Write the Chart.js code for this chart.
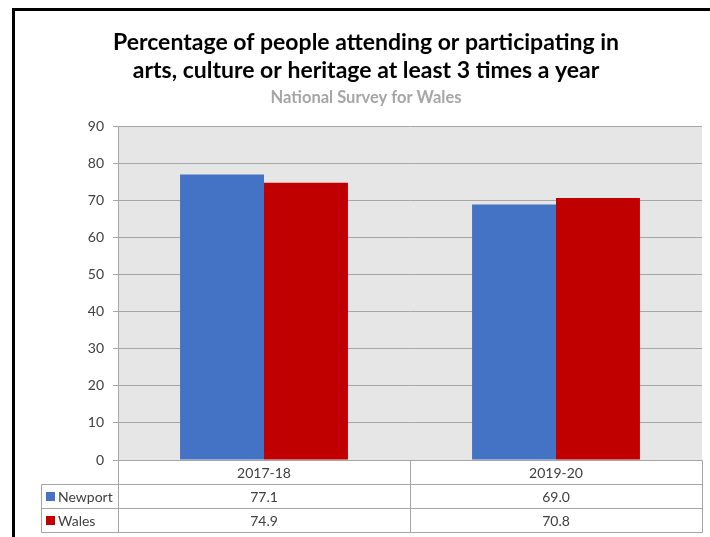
<!DOCTYPE html>
<html>
<head>
<meta charset="utf-8">
<script src="https://cdn.jsdelivr.net/npm/chart.js@4/dist/chart.umd.min.js"></script>
<style>
  html, body { margin: 0; padding: 0; background: #ffffff; }
  #wrap { width: 710px; height: 537px; position: relative; }
</style>
</head>
<body>
<div id="wrap"><canvas id="c" width="710" height="537"></canvas></div>
<script>
// ---- data ----
const categories = ['2017-18', '2019-20'];
const seriesNames = ['Newport', 'Wales'];
const newportValues = [77.1, 69.0];
const walesValues = [74.9, 70.8];
const yMin = 0, yMax = 90, yStep = 10;
const titleLines = ['Percentage of people attending or participating in', 'arts, culture or heritage at least 3 times a year'];
const subtitleText = 'National Survey for Wales';

const FONT = 'Lato, "Noto Sans", sans-serif';
const GRID = '#a6a6a6';
const TEXT = '#404040';

const frameAndTable = {
  id: 'frameAndTable',
  beforeDraw(chart) {
    const ctx = chart.ctx, a = chart.chartArea;
    ctx.save();
    ctx.fillStyle = '#e6e6e6';
    ctx.fillRect(a.left, a.top, a.right - a.left, a.bottom - a.top);
    ctx.restore();
  },
  afterDraw(chart) {
    const ctx = chart.ctx, a = chart.chartArea, x = chart.scales.x;
    const rowH = 24;
    const tableLeft = 41;
    const hdrTop = a.bottom, hdrBot = a.bottom + rowH;
    const r1Bot = hdrBot + rowH, r2Bot = r1Bot + rowH;
    ctx.save();
    // outer frame of the chart (top + left thick black lines)
    ctx.fillStyle = '#000';
    ctx.fillRect(12, 8, 710 - 12, 3);
    ctx.fillRect(12, 8, 3, 537 - 8);

    ctx.strokeStyle = GRID;
    ctx.lineWidth = 1;
    const line = (x1, y1, x2, y2) => {
      ctx.beginPath();
      ctx.moveTo(Math.round(x1) + 0.5, Math.round(y1) + 0.5);
      ctx.lineTo(Math.round(x2) + 0.5, Math.round(y2) + 0.5);
      ctx.stroke();
    };
    // horizontal table lines
    line(a.left, hdrTop, a.right, hdrTop);
    line(tableLeft, hdrBot, a.right, hdrBot);
    line(tableLeft, r1Bot, a.right, r1Bot);
    line(tableLeft, r2Bot, a.right, r2Bot);
    // vertical lines
    line(tableLeft, hdrBot, tableLeft, r2Bot);
    line(a.left, a.top, a.left, r2Bot);
    const n = categories.length;
    const step = (a.right - a.left) / n;
    for (let i = 1; i <= n; i++) {
      const xx = a.left + step * i;
      line(xx, hdrTop, xx, r2Bot);
    }
    // text
    ctx.fillStyle = TEXT;
    ctx.font = '14px ' + FONT;
    ctx.textAlign = 'center';
    ctx.textBaseline = 'middle';
    const rows = [newportValues, walesValues];
    categories.forEach((c, i) => {
      const cx = x.getPixelForValue(i);
      ctx.fillText(c, cx, hdrTop + rowH / 2 + 1);
      rows.forEach((vals, r) => {
        ctx.fillText(vals[i].toFixed(1), cx, hdrBot + rowH * r + rowH / 2 + 1);
      });
    });
    // legend keys
    ctx.textAlign = 'left';
    chart.data.datasets.forEach((ds, r) => {
      const cy = hdrBot + rowH * r + rowH / 2;
      ctx.fillStyle = ds.backgroundColor;
      ctx.fillRect(46, Math.round(cy - 4), 9, 9);
      ctx.fillStyle = TEXT;
      ctx.fillText(ds.label, 58, cy + 1);
    });
    ctx.restore();
  }
};

new Chart(document.getElementById('c'), {
  type: 'bar',
  data: {
    labels: categories,
    datasets: [
      { label: seriesNames[0], data: newportValues, backgroundColor: '#4472c4' },
      { label: seriesNames[1], data: walesValues, backgroundColor: '#c00000' }
    ]
  },
  options: {
    responsive: false,
    animation: false,
    devicePixelRatio: 1,
    layout: { padding: { top: 28, left: 30, right: 8, bottom: 77 } },
    datasets: { bar: { categoryPercentage: 0.575, barPercentage: 1.0 } },
    plugins: {
      legend: { display: false },
      tooltip: { enabled: false },
      title: {
        display: true,
        text: titleLines,
        color: '#000000',
        font: { family: FONT, size: 23, weight: 'bold', lineHeight: 1.24 },
        padding: { top: 0, bottom: 3 }
      },
      subtitle: {
        display: true,
        text: subtitleText,
        color: '#a6a6a6',
        font: { family: FONT, size: 16.5, weight: 'bold', lineHeight: 1.2 },
        padding: { top: 0, bottom: 19 }
      }
    },
    scales: {
      x: {
        display: false
      },
      y: {
        min: yMin, max: yMax,
        ticks: { stepSize: yStep, color: TEXT, font: { family: FONT, size: 14 }, padding: 9 },
        grid: { color: GRID, tickLength: 5, drawTicks: true },
        border: { display: true, color: GRID },
        afterFit(axis) { axis.width = 88; }
      }
    }
  },
  plugins: [frameAndTable]
});
</script>
</body>
</html>
